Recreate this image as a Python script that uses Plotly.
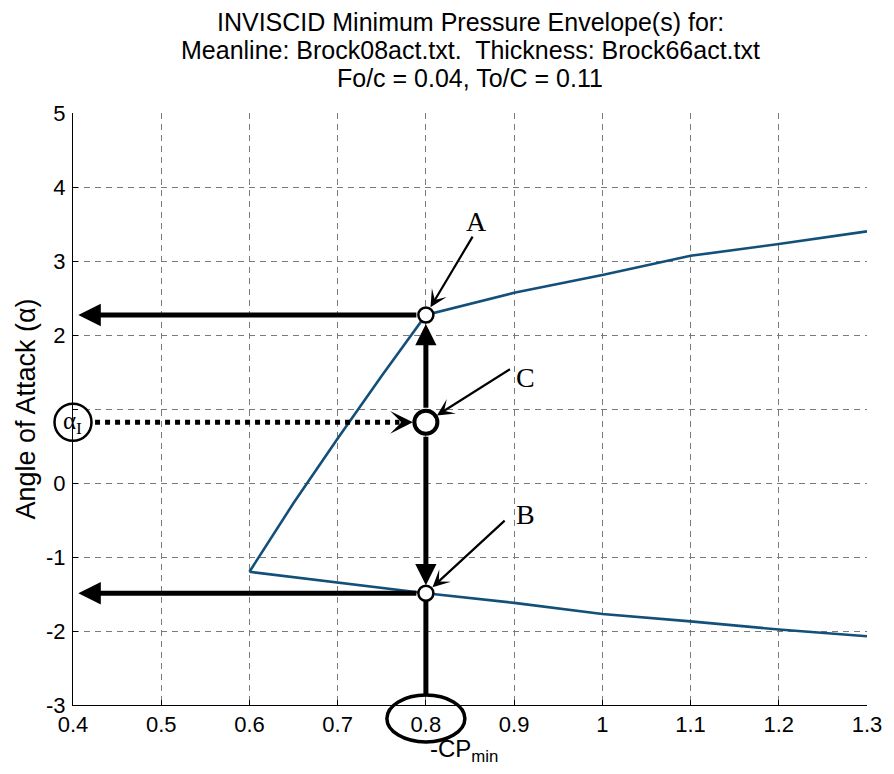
import plotly.graph_objects as go

# ---------------- data ----------------
x_upper = [0.6, 0.65, 0.7, 0.75, 0.8, 0.9, 1.0, 1.1, 1.2, 1.3]
y_upper = [-1.2, -0.27, 0.6, 1.45, 2.27, 2.57, 2.81, 3.07, 3.23, 3.4]
x_lower = [0.6, 0.7, 0.8, 0.9, 1.0, 1.1, 1.2, 1.3]
y_lower = [-1.2, -1.35, -1.49, -1.62, -1.77, -1.87, -1.98, -2.07]

x_ticks = [0.4, 0.5, 0.6, 0.7, 0.8, 0.9, 1.0, 1.1, 1.2, 1.3]
x_tick_labels = ["0.4", "0.5", "0.6", "0.7", "0.8", "0.9", "1", "1.1", "1.2", "1.3"]
y_ticks = [-3, -2, -1, 0, 1, 2, 3, 4, 5]
# the "1" label is hidden behind the alpha_I circle in the original
y_tick_labels = ["-3", "-2", "-1", "0", "", "2", "3", "4", "5"]

cp_min = 0.8          # selected -CPmin
alpha_A = 2.27        # point A
alpha_B = -1.49       # point B
alpha_C = 0.82        # point C (alpha_I)
x_min, x_max = 0.4, 1.3
y_min, y_max = -3, 5

label_pos = {"A": (0.857, 3.53), "B": (0.913, -0.42), "C": (0.913, 1.43)}
label_tail = {"A": (0.854, 3.35), "B": (0.891, -0.49), "C": (0.897, 1.55)}
points = {"A": alpha_A, "B": alpha_B, "C": alpha_C}

title_lines = ["INVISCID Minimum Pressure Envelope(s) for:",
               "Meanline: Brock08act.txt.  Thickness: Brock66act.txt",
               "Fo/c = 0.04, To/C = 0.11"]

SANS = "Liberation Sans, Arial, sans-serif"
SERIF = "Liberation Serif, Times New Roman, serif"
CURVE = "#12507a"

fig = go.Figure()

# envelope curves
fig.add_trace(go.Scatter(x=x_upper, y=y_upper, mode="lines",
                         line=dict(color=CURVE, width=2.6), showlegend=False, hoverinfo="skip"))
fig.add_trace(go.Scatter(x=x_lower, y=y_lower, mode="lines",
                         line=dict(color=CURVE, width=2.6), showlegend=False, hoverinfo="skip"))

# vertical line from -CPmin up to B
fig.add_trace(go.Scatter(x=[cp_min, cp_min], y=[y_min + 0.14, alpha_B], mode="lines",
                         line=dict(color="black", width=5), showlegend=False, hoverinfo="skip",
                         cliponaxis=False))

# dotted line from alpha_I to C
fig.add_trace(go.Scatter(x=[x_min + 0.025, cp_min - 0.03], y=[alpha_C, alpha_C], mode="lines",
                         line=dict(color="black", width=5, dash="dot"), showlegend=False,
                         hoverinfo="skip", cliponaxis=False))

# circles at A, B, C
fig.add_trace(go.Scatter(x=[cp_min, cp_min], y=[alpha_A, alpha_B], mode="markers",
                         marker=dict(size=15, color="white", line=dict(color="black", width=2.5)),
                         showlegend=False, hoverinfo="skip", cliponaxis=False))
fig.add_trace(go.Scatter(x=[cp_min], y=[alpha_C], mode="markers",
                         marker=dict(size=23, color="white", line=dict(color="black", width=4)),
                         showlegend=False, hoverinfo="skip", cliponaxis=False))
# alpha_I circle on the y axis
fig.add_trace(go.Scatter(x=[x_min], y=[alpha_C], mode="markers",
                         marker=dict(size=37, color="white", line=dict(color="black", width=2.5)),
                         showlegend=False, hoverinfo="skip", cliponaxis=False))

annotations = []


def arrow(x, y, ax, ay, width, size, head=2, standoff=0, startstandoff=0):
    annotations.append(dict(x=x, y=y, ax=ax, ay=ay, xref="x", yref="y", axref="x", ayref="y",
                            text="", showarrow=True, arrowhead=head, arrowsize=size,
                            arrowwidth=width, arrowcolor="black", standoff=standoff,
                            startstandoff=startstandoff))


# thick arrows
arrow(x_min + 0.006, alpha_A, cp_min, alpha_A, 5, 0.9, 2, 0, 8)
arrow(x_min + 0.006, alpha_B, cp_min, alpha_B, 5, 0.9, 2, 0, 8)
arrow(cp_min, alpha_A, cp_min, alpha_C, 5, 0.85, 2, 9, 13)
arrow(cp_min, alpha_B, cp_min, alpha_C, 5, 0.85, 2, 8, 13)
# dotted arrow head
arrow(cp_min, alpha_C, cp_min - 0.03, alpha_C, 4, 0.95, 3, 13, 0)

# labels A, B, C with thin arrows
for k in ["A", "B", "C"]:
    lx, ly = label_pos[k]
    tx, ty = label_tail[k]
    annotations.append(dict(x=lx, y=ly, xref="x", yref="y", text=k, showarrow=False,
                            font=dict(family=SERIF, size=28, color="black")))
    arrow(cp_min, points[k], tx, ty, 2.2, 1.3, 3, 9 if k != "C" else 13, 0)

# alpha_I text
annotations.append(dict(x=x_min, y=alpha_C, xref="x", yref="y", xshift=-1,
                        text="α<sub>I</sub>", showarrow=False,
                        font=dict(family=SERIF, size=25, color="black")))

# -CPmin label
annotations.append(dict(x=cp_min, y=0, xref="x", yref="paper", xanchor="left", yanchor="top",
                        xshift=2, yshift=-28, text="-CP<sub>min</sub>", showarrow=False,
                        font=dict(family=SANS, size=24, color="black")))

# title (three lines)
for i, line in enumerate(title_lines):
    annotations.append(dict(x=0.5, y=1, xref="paper", yref="paper", yanchor="middle",
                            yshift=91 - 28 * i, text=line, showarrow=False,
                            font=dict(family=SANS, size=25, color="black")))

shapes = [dict(type="circle", xref="paper", yref="paper",
               xsizemode="pixel", ysizemode="pixel",
               xanchor=(cp_min - x_min) / (x_max - x_min), yanchor=0,
               x0=-39, x1=39, y0=-37, y1=10,
               line=dict(color="black", width=3.5))]

fig.update_layout(
    width=894, height=774,
    margin=dict(l=73, r=24, t=113, b=69),
    paper_bgcolor="white", plot_bgcolor="white",
    annotations=annotations, shapes=shapes,
    font=dict(family=SANS, color="black"),
    showlegend=False,
)
fig.update_xaxes(range=[x_min, x_max], tickvals=x_ticks, ticktext=x_tick_labels,
                 showgrid=True, gridcolor="#7a7a7a", gridwidth=1, griddash="6px,5px",
                 showline=True, linecolor="black", linewidth=1, zeroline=False,
                 ticks="inside", ticklen=5, tickcolor="black",
                 tickfont=dict(family=SANS, size=22, color="black"))
fig.update_yaxes(range=[y_min, y_max], tickvals=y_ticks, ticktext=y_tick_labels,
                 showgrid=True, gridcolor="#7a7a7a", gridwidth=1, griddash="6px,5px",
                 showline=True, linecolor="black", linewidth=1, zeroline=False,
                 ticks="inside", ticklen=5, tickcolor="black",
                 tickfont=dict(family=SANS, size=22, color="black"),
                 ticklabelstandoff=2,
                 title=dict(text="Angle of Attack (α)", standoff=2,
                            font=dict(family=SANS, size=27, color="black")))

fig.write_html("out.html")
